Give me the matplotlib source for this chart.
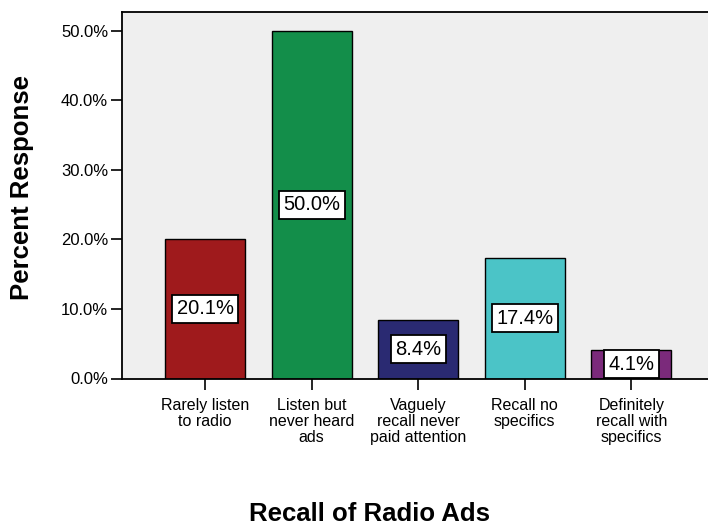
import matplotlib
matplotlib.use("Agg")
import matplotlib.pyplot as plt
from matplotlib.ticker import FuncFormatter

plt.rcParams["font.family"] = ["Liberation Sans", "DejaVu Sans"]

categories = [
    "Rarely listen\nto radio",
    "Listen but\nnever heard\nads",
    "Vaguely\nrecall never\npaid attention",
    "Recall no\nspecifics",
    "Definitely\nrecall with\nspecifics",
]
percents = [20.1, 50.0, 8.4, 17.4, 4.1]
colors = ["#9f1a1c", "#138e4a", "#2a2a72", "#4bc4c7", "#7b2a7b"]
yticks = [0, 10, 20, 30, 40, 50]

W, H = 708, 527
fig = plt.figure(figsize=(W / 100, H / 100), dpi=100)
ax = fig.add_axes([122 / W, 1 - 378.5 / H, (W - 122) / W, (378.5 - 11.5) / H])
ax.set_facecolor("#efefef")

x = list(range(len(categories)))
ax.bar(x, percents, width=0.75, color=colors, edgecolor="black", linewidth=1.0, zorder=2)

for xi, v in zip(x, percents):
    ax.text(xi, v / 2, f"{v:.1f}%", ha="center", va="center", fontsize=14.5, zorder=3,
            bbox=dict(boxstyle="square,pad=0.22", fc="white", ec="black", lw=1.3))

ax.set_xlim(-0.78, 4.72)
ax.set_ylim(0, 52.8)
ax.set_yticks(yticks)
ax.yaxis.set_major_formatter(FuncFormatter(lambda v, _: f"{v:.1f}%"))
ax.set_xticks(x)
ax.set_xticklabels(categories, fontsize=11.5, linespacing=1.08)
ax.tick_params(axis="y", labelsize=12, length=8, width=1.2, pad=2)
ax.tick_params(axis="x", length=8, width=1.2, pad=6)
for side in ["left", "bottom", "top"]:
    ax.spines[side].set_linewidth(1.3)
ax.spines["right"].set_visible(False)

fig.text(22 / W, 1 - 188 / H, "Percent Response", rotation=90, ha="center", va="center",
         fontsize=18.5, fontweight="bold")
# baseline sits right near the bottom edge, like the reference
fig.text(369 / W, 1 - 521 / H, "Recall of Radio Ads", ha="center", va="baseline",
         fontsize=18.5, fontweight="bold")

fig.savefig("out.png", dpi=100)
